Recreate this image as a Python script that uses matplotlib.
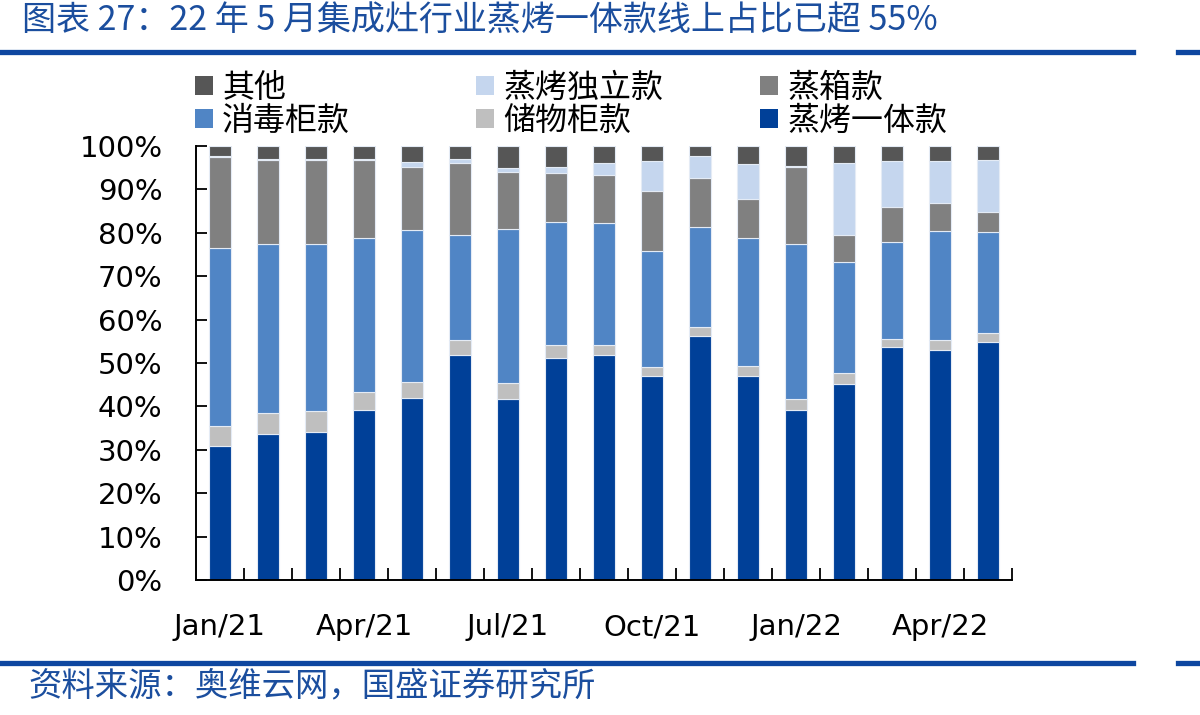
import matplotlib
matplotlib.use('Agg')
import matplotlib.pyplot as plt
import numpy as np
from matplotlib.patches import Patch
from matplotlib.lines import Line2D
from matplotlib.ticker import FixedLocator, FuncFormatter

# ---------------- data ----------------
months = ['Jan/21', 'Feb/21', 'Mar/21', 'Apr/21', 'May/21', 'Jun/21', 'Jul/21', 'Aug/21',
          'Sep/21', 'Oct/21', 'Nov/21', 'Dec/21', 'Jan/22', 'Feb/22', 'Mar/22', 'Apr/22', 'May/22']
shown_labels = ['Jan/21', 'Apr/21', 'Jul/21', 'Oct/21', 'Jan/22', 'Apr/22']

steam_oven_integrated = [30.8, 33.6, 34.0, 39.1, 41.9, 51.9, 41.7, 51.2, 51.9, 47.0, 56.2, 47.0, 39.1, 45.1, 53.7, 53.0, 54.9]  # 蒸烤一体款
storage_cabinet = [4.6, 4.8, 4.9, 4.2, 3.7, 3.4, 3.7, 3.0, 2.3, 2.1, 2.1, 2.3, 2.6, 2.6, 1.9, 2.3, 2.0]  # 储物柜款
disinfection_cabinet = [41.2, 39.1, 38.5, 35.6, 35.0, 24.1, 35.4, 28.3, 28.0, 26.6, 23.0, 29.5, 35.7, 25.5, 22.3, 25.0, 23.2]  # 消毒柜款
steamer = [20.9, 19.3, 19.4, 17.9, 14.5, 16.7, 13.2, 11.2, 11.1, 13.9, 11.3, 8.9, 17.7, 6.2, 8.0, 6.5, 4.6]  # 蒸箱款
steam_oven_separate = [0.3, 0.2, 0.2, 0.2, 1.2, 0.9, 0.9, 1.4, 2.8, 6.9, 5.1, 8.1, 0.3, 16.7, 10.6, 9.7, 12.1]  # 蒸烤独立款
others = [2.2, 3.0, 3.0, 3.0, 3.7, 3.0, 5.1, 4.9, 3.9, 3.5, 2.3, 4.2, 4.6, 3.9, 3.5, 3.5, 3.2]  # 其他

series_names = ['蒸烤一体款', '储物柜款', '消毒柜款', '蒸箱款', '蒸烤独立款', '其他']
series_values = [steam_oven_integrated, storage_cabinet, disinfection_cabinet, steamer, steam_oven_separate, others]
series_colors = ['#004098', '#BFBFBF', '#5085C5', '#808080', '#C5D6EE', '#565656']

title = '图表 27：22 年 5 月集成灶行业蒸烤一体款线上占比已超 55%'
source = '资料来源：奥维云网，国盛证券研究所'

# ---------------- figure ----------------
plt.rcParams['font.family'] = ['DejaVu Sans', 'Noto Sans CJK SC']
W, H = 1200, 715
fig = plt.figure(figsize=(W / 100, H / 100), dpi=100)

ax_left, ax_right, ax_top, ax_bottom = 196, 1012, 146, 580
ax = fig.add_axes([ax_left / W, 1 - ax_bottom / H, (ax_right - ax_left) / W, (ax_bottom - ax_top) / H])

x = np.arange(len(months))
bottom = np.zeros(len(months))
for name, vals, color in zip(series_names, series_values, series_colors):
    vals = np.array(vals)
    ax.bar(x, vals, 0.47, bottom=bottom, color=color,
           edgecolor='#E4EBF5', linewidth=0.8, label=name, zorder=2)
    bottom += vals

ax.set_xlim(-0.5, len(months) - 0.5)
ax.set_ylim(0, 100)

for s in ['top', 'right']:
    ax.spines[s].set_visible(False)
for s in ['left', 'bottom']:
    ax.spines[s].set_linewidth(1.4)
    ax.spines[s].set_color('black')

ax.set_yticks(np.arange(0, 101, 10))
ax.yaxis.set_major_formatter(FuncFormatter(lambda v, p: f'{int(v)}%'))
ax.tick_params(axis='y', direction='in', length=8, width=1.3, pad=24, labelsize=21)

major_pos = [months.index(m) for m in shown_labels]
ax.set_xticks(major_pos)
ax.set_xticklabels(shown_labels)
ax.xaxis.set_minor_locator(FixedLocator(np.arange(0.5, len(months), 1.0)))
ax.tick_params(axis='x', which='major', length=0, pad=24, labelsize=21)
ax.tick_params(axis='x', which='minor', direction='in', length=8.5, width=1.3)

# ---------------- legend (three columns) ----------------
handle_map = {n: Patch(facecolor=c, edgecolor='none') for n, c in zip(series_names, series_colors)}
columns = [(['其他', '消毒柜款'], 195), (['蒸烤独立款', '储物柜款'], 476), (['蒸箱款', '蒸烤一体款'], 760)]
for names, xpx in columns:
    fig.legend([handle_map[n] for n in names], names, loc='upper left',
               bbox_to_anchor=(xpx / W, 1 - 72 / H), frameon=False,
               prop={'family': ['Noto Sans CJK SC'], 'size': 23},
               handlelength=0.55, handleheight=0.55, handletextpad=0.3,
               labelspacing=0.02, borderpad=0, borderaxespad=0)

# ---------------- title, rules, source ----------------
blue = '#1B4E9E'
fig.text(22 / W, 1 - 21 / H, title, fontsize=24.5, color=blue, va='center', ha='left',
         family=['Noto Sans CJK SC', 'DejaVu Sans'])
for ypx in (52, 663):
    fig.add_artist(Line2D([0, 1133 / W], [1 - ypx / H] * 2, color='#0E47A0', lw=3.8))
    fig.add_artist(Line2D([1178 / W, 1], [1 - ypx / H] * 2, color='#0E47A0', lw=3.8))
fig.text(28 / W, 1 - 686 / H, source, fontsize=24, color=blue, va='center', ha='left',
         family=['Noto Sans CJK SC', 'DejaVu Sans'])

fig.savefig('out.png', dpi=100)
